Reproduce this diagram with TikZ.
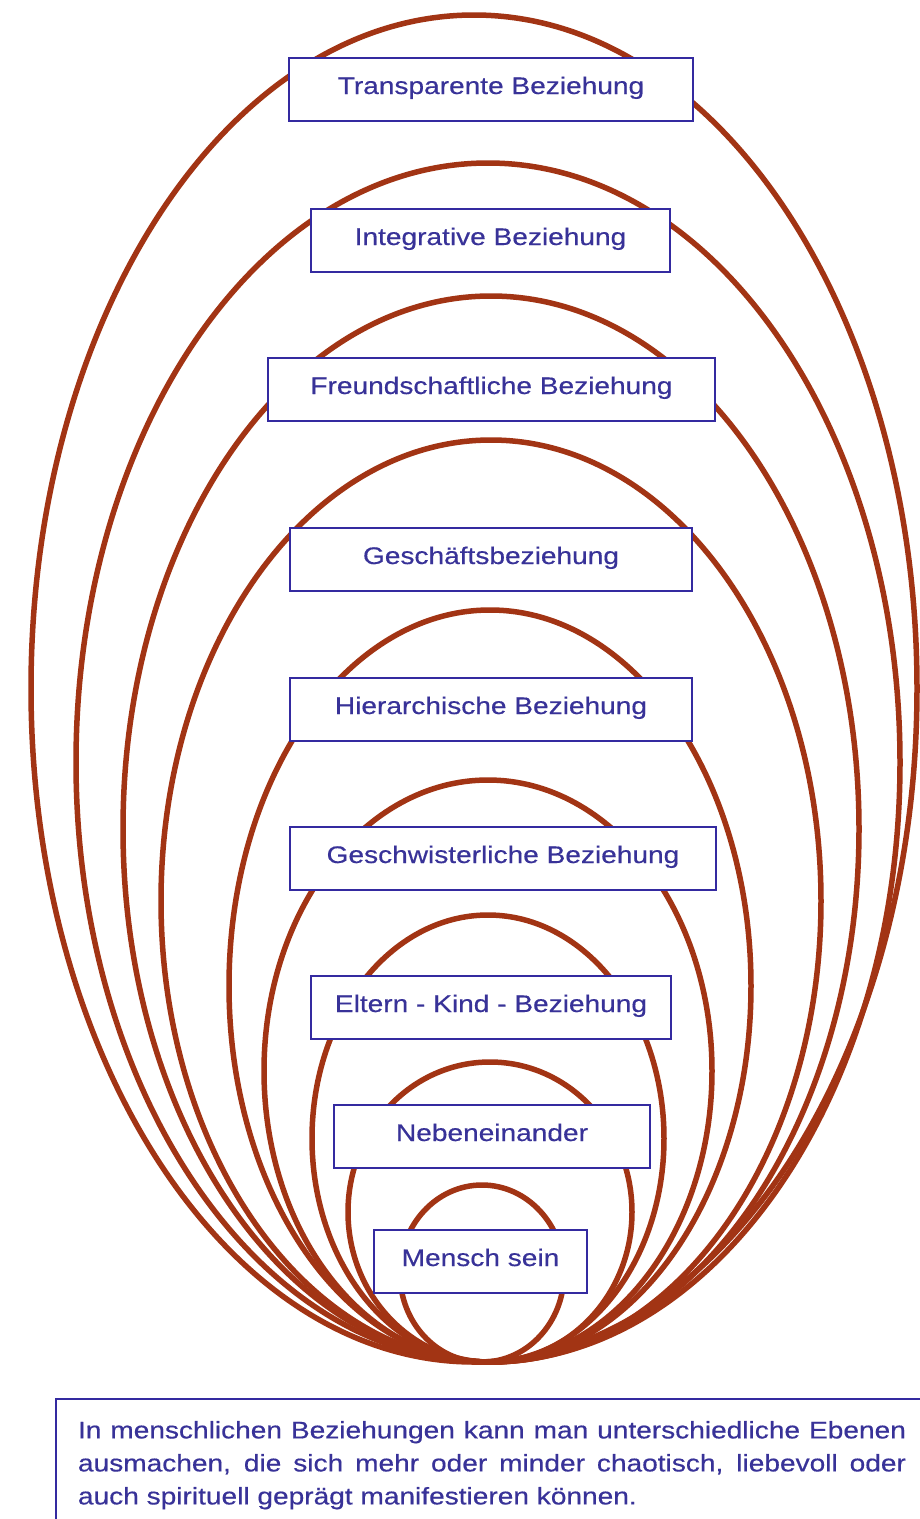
\documentclass[tikz,border=0pt]{standalone}
\usepackage{fontspec}
\newfontfamily\boxfont[FakeStretch=1.17,FakeBold=0.4]{Liberation Sans}
\definecolor{ring}{RGB}{162,52,20}
\definecolor{boxblue}{RGB}{52,42,160}
\definecolor{txtblue}{RGB}{56,50,152}
\begin{document}
\begin{tikzpicture}[x=1pt,y=-1pt,
  ringline/.style={draw=ring, line width=5.5pt},
  levelbox/.style={draw=boxblue, line width=2pt, fill=white, text=txtblue,
    font=\boxfont\fontsize{24}{28}\selectfont, inner sep=0pt,
    text height=36pt, text depth=27pt, anchor=north},
  descbox/.style={draw=boxblue, line width=2pt, fill=white, text=txtblue,
    font=\boxfont\fontsize{24}{33}\selectfont, align=left,
    inner xsep=22pt, inner ysep=22pt, text width=830pt, anchor=north west}
  ]
\useasboundingbox (0,0) rectangle (919,1519);
\fill[white] (0,0) rectangle (919,1519);
% nested rings, all touching at the bottom
\draw[ringline] (474,688.5) ellipse [x radius=443pt, y radius=673.5pt];
\draw[ringline] (488,762.5) ellipse [x radius=412pt, y radius=599.5pt];
\draw[ringline] (491,829) ellipse [x radius=368pt, y radius=533pt];
\draw[ringline] (491,901) ellipse [x radius=330pt, y radius=461pt];
\draw[ringline] (490,986) ellipse [x radius=261pt, y radius=376pt];
\draw[ringline] (488,1071) ellipse [x radius=224pt, y radius=291pt];
\draw[ringline] (488,1138.5) ellipse [x radius=176pt, y radius=223.5pt];
\draw[ringline] (490,1212) ellipse [x radius=142pt, y radius=150pt];
\draw[ringline] (482,1273.5) ellipse [x radius=82pt, y radius=88.5pt];
% level labels
\node[levelbox, minimum width=404pt] (transp) at (491,57) {Transparente Beziehung};
\node[levelbox, minimum width=359pt] (integ) at (490.5,208) {Integrative Beziehung};
\node[levelbox, minimum width=447pt] (freund) at (491.5,357) {Freundschaftliche Beziehung};
\node[levelbox, minimum width=402pt] (gesch) at (491,527) {Geschäftsbeziehung};
\node[levelbox, minimum width=402pt] (hier) at (491,677) {Hierarchische Beziehung};
\node[levelbox, minimum width=426pt] (geschw) at (503,826) {Geschwisterliche Beziehung};
\node[levelbox, minimum width=360pt] (eltern) at (491,975) {Eltern - Kind - Beziehung};
\node[levelbox, minimum width=316pt] (neben) at (492,1104) {Nebeneinander};
\node[levelbox, minimum width=213pt] (mensch) at (480.5,1229) {Mensch sein};
% description
\node[descbox] (desc) at (55,1398) {\spaceskip=0pt\xspaceskip=0pt\relax
\makebox[828pt][s]{In menschlichen Beziehungen kann man unterschiedliche Ebenen}\\
\makebox[828pt][s]{ausmachen, die sich mehr oder minder chaotisch, liebevoll oder}\\
auch spirituell geprägt manifestieren können.};
\end{tikzpicture}
\end{document}
